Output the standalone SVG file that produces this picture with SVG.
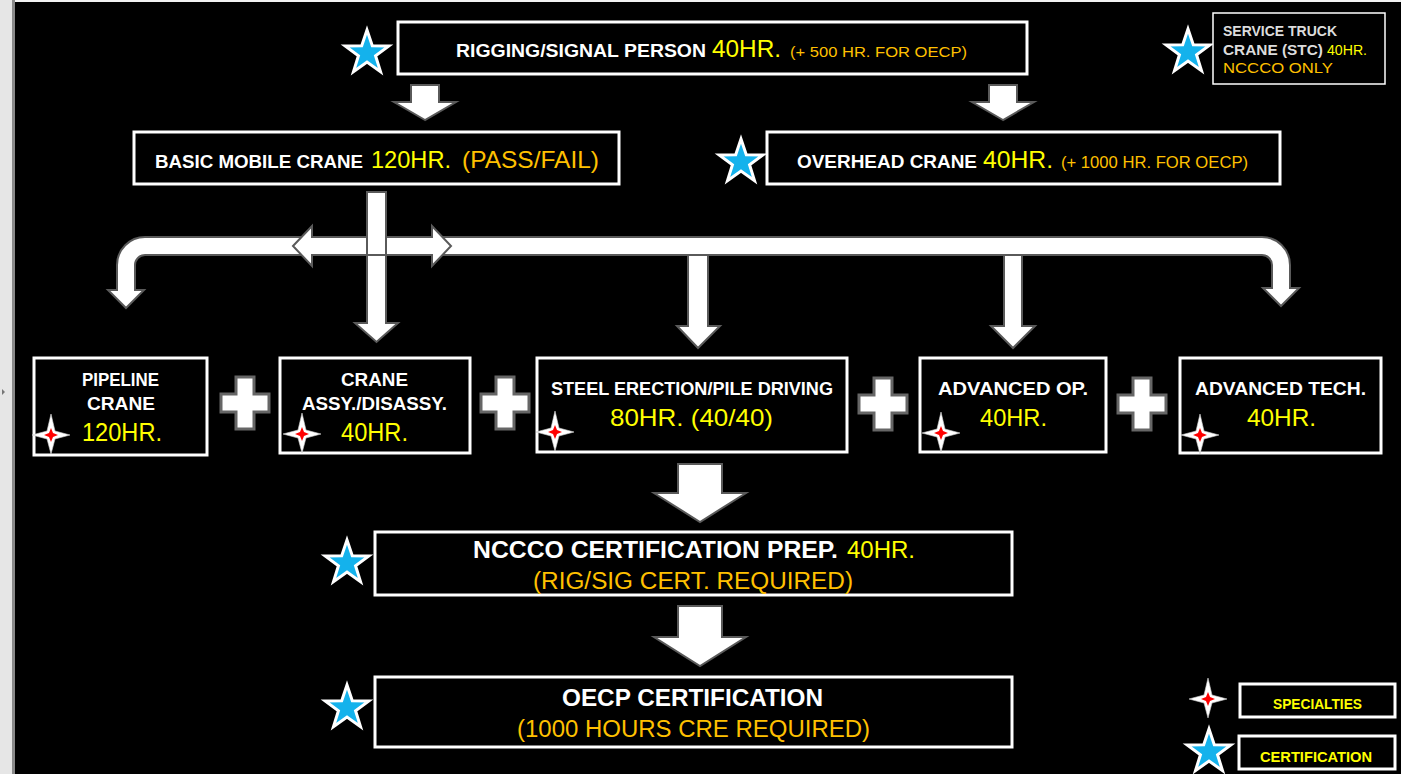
<svg xmlns="http://www.w3.org/2000/svg" xmlns:xlink="http://www.w3.org/1999/xlink" width="1401" height="774" viewBox="0 0 1401 774">
<defs>
<style>
.bx{fill:#000;stroke:#fff;stroke-width:3}
.w{fill:#fff;font-family:'Liberation Sans',Arial,sans-serif;font-weight:bold}
.g{fill:#dcdcdc;font-family:'Liberation Sans',Arial,sans-serif;font-weight:bold}
.y{fill:#ffff00;font-family:'Liberation Sans',Arial,sans-serif}
.yb{fill:#ffff00;font-family:'Liberation Sans',Arial,sans-serif;font-weight:bold}
.o{fill:#ffc000;font-family:'Liberation Sans',Arial,sans-serif}
.conn{fill:#fff;stroke:#5a5a5a;stroke-width:2;stroke-linejoin:miter}
.plus{fill:#fff;stroke:#666;stroke-width:3}
.star{fill:#14b2ec;stroke:#fff;stroke-width:3;stroke-linejoin:miter}
.spk{fill:#fff;stroke:#cfcfcf;stroke-width:0.6}
.spr{fill:#ff0000}
</style>
<path id="star" d="M0,-23 L5.29,-7.28 L21.87,-7.11 L8.56,2.78 L13.52,18.61 L0,9 L-13.52,18.61 L-8.56,2.78 L-21.87,-7.11 L-5.29,-7.28 Z"/>
<g id="sparkle">
<path class="spk" d="M0,-21 L4,-4 L19,0 L4,4 L0,19 L-4,4 L-19,0 L-4,-4 Z"/>
<path class="spr" d="M0,-7 L2,-2 L7,0 L2,2 L0,7 L-2,2 L-7,0 L-2,-2 Z"/>
</g>
<path id="plus" d="M-9,-26 H9 V-9 H24 V9 H9 V26 H-9 V9 H-24 V-9 H-9 Z"/>
</defs>

<rect x="0" y="0" width="1401" height="774" fill="#f2f2f2"/>
<rect x="0" y="0" width="12" height="774" fill="#e6e6e6"/>
<rect x="12" y="0" width="3" height="774" fill="#8a8a8a"/>
<rect x="15" y="2" width="1386" height="772" fill="#000"/>
<path d="M2,389 L5,392 L2,395 Z" fill="#777"/>

<g id="connectors">
<path class="conn" d="M425,120 L394,102 H411 V85 H439 V102 H456 Z"/>
<path class="conn" d="M1003,120 L972,102 H989 V85 H1017 V102 H1034 Z"/>
<path class="conn" d="M145,237 H1262 A28,28 0 0 1 1290,265 V288 H1299 L1281,306 L1263,288 H1272 V265 A10,10 0 0 0 1262,255 H145 A10,10 0 0 0 135,265 V290 H144 L126,308 L108,290 H117 V265 A28,28 0 0 1 145,237 Z"/>
<path class="conn" d="M293,246 L312,226 V237 H432 V226 L451,246 L432,266 V255 H312 V266 Z"/>
<rect class="conn" x="367" y="192" width="19" height="63"/>
<path class="conn" d="M367,255 H386 V323 H398 L376.5,342 L355,323 H367 Z"/>
<path class="conn" d="M688,255 H708 V326 H720 L698,348 L677,326 H688 Z"/>
<path class="conn" d="M1004,255 H1022 V326 H1035 L1013,348 L991,326 H1004 Z"/>
<path class="conn" d="M678,464 H722 V493 H746 L700,522 L654,493 H678 Z"/>
<path class="conn" d="M678,606 H722 V637 H746 L700,666 L654,637 H678 Z"/>
<use href="#plus" class="plus" x="245" y="403"/>
<use href="#plus" class="plus" x="505" y="403"/>
<use href="#plus" class="plus" x="883" y="404"/>
<use href="#plus" class="plus" x="1142" y="404"/>
</g>

<g id="rigging">
<use href="#star" class="star" x="367" y="53"/>
<rect class="bx" x="398" y="22" width="629" height="52"/>
<text class="w" x="456" y="57" font-size="18" textLength="250" lengthAdjust="spacingAndGlyphs">RIGGING/SIGNAL PERSON</text>
<text class="y" x="712" y="57" font-size="24" textLength="69" lengthAdjust="spacingAndGlyphs">40HR.</text>
<text class="o" x="790" y="57" font-size="15" textLength="177" lengthAdjust="spacingAndGlyphs">(+ 500 HR. FOR OECP)</text>
</g>

<g id="stc">
<use href="#star" class="star" x="1188" y="52"/>
<rect x="1213" y="13" width="172" height="71" fill="#000" stroke="#fff" stroke-width="1.5"/>
<text class="g" x="1223" y="36" font-size="15" textLength="114" lengthAdjust="spacingAndGlyphs">SERVICE TRUCK</text>
<text class="g" x="1223" y="55" font-size="15" textLength="100" lengthAdjust="spacingAndGlyphs">CRANE (STC)</text>
<text class="y" x="1327" y="55" font-size="15" textLength="40" lengthAdjust="spacingAndGlyphs">40HR.</text>
<text class="o" x="1223" y="73" font-size="15" textLength="110" lengthAdjust="spacingAndGlyphs">NCCCO ONLY</text>
</g>

<g id="basic">
<rect class="bx" x="134" y="132" width="485" height="52"/>
<text class="w" x="155" y="168" font-size="19" textLength="208" lengthAdjust="spacingAndGlyphs">BASIC MOBILE CRANE</text>
<text class="y" x="371" y="168" font-size="24" textLength="80" lengthAdjust="spacingAndGlyphs">120HR.</text>
<text class="o" x="462" y="168" font-size="24" textLength="137" lengthAdjust="spacingAndGlyphs">(PASS/FAIL)</text>
</g>

<g id="overhead">
<use href="#star" class="star" x="741" y="162"/>
<rect class="bx" x="767" y="132" width="513" height="52"/>
<text class="w" x="797" y="168" font-size="19" textLength="180" lengthAdjust="spacingAndGlyphs">OVERHEAD CRANE</text>
<text class="y" x="983" y="168" font-size="24" textLength="70" lengthAdjust="spacingAndGlyphs">40HR.</text>
<text class="o" x="1061" y="168" font-size="16" textLength="187" lengthAdjust="spacingAndGlyphs">(+ 1000 HR. FOR OECP)</text>
</g>

<g id="pipeline">
<rect class="bx" x="34" y="358" width="173" height="97"/>
<text class="w" x="82" y="386" font-size="19" textLength="77" lengthAdjust="spacingAndGlyphs">PIPELINE</text>
<text class="w" x="87" y="410" font-size="19" textLength="68" lengthAdjust="spacingAndGlyphs">CRANE</text>
<text class="y" x="82" y="441" font-size="25" textLength="80" lengthAdjust="spacingAndGlyphs">120HR.</text>
<use href="#sparkle" x="51" y="435"/>
</g>

<g id="assy">
<rect class="bx" x="280" y="358" width="190" height="95"/>
<text class="w" x="341" y="386" font-size="19" textLength="67" lengthAdjust="spacingAndGlyphs">CRANE</text>
<text class="w" x="302" y="410" font-size="19" textLength="145" lengthAdjust="spacingAndGlyphs">ASSY./DISASSY.</text>
<text class="y" x="341" y="441" font-size="25" textLength="67" lengthAdjust="spacingAndGlyphs">40HR.</text>
<use href="#sparkle" x="302" y="434"/>
</g>

<g id="steel">
<rect class="bx" x="537" y="358" width="310" height="94"/>
<text class="w" x="551" y="395" font-size="18" textLength="282" lengthAdjust="spacingAndGlyphs">STEEL ERECTION/PILE DRIVING</text>
<text class="y" x="610" y="426" font-size="24" textLength="163" lengthAdjust="spacingAndGlyphs">80HR. (40/40)</text>
<use href="#sparkle" x="555" y="432"/>
</g>

<g id="advop">
<rect class="bx" x="920" y="358" width="186" height="94"/>
<text class="w" x="938" y="395" font-size="18" textLength="150" lengthAdjust="spacingAndGlyphs">ADVANCED OP.</text>
<text class="y" x="980" y="426" font-size="24" textLength="67" lengthAdjust="spacingAndGlyphs">40HR.</text>
<use href="#sparkle" x="941" y="433"/>
</g>

<g id="advtech">
<rect class="bx" x="1180" y="358" width="201" height="95"/>
<text class="w" x="1195" y="395" font-size="18" textLength="171" lengthAdjust="spacingAndGlyphs">ADVANCED TECH.</text>
<text class="y" x="1247" y="426" font-size="24" textLength="69" lengthAdjust="spacingAndGlyphs">40HR.</text>
<use href="#sparkle" x="1200" y="435"/>
</g>

<g id="nccco">
<use href="#star" class="star" x="347" y="563"/>
<rect class="bx" x="375" y="532" width="637" height="63"/>
<text class="w" x="473" y="558" font-size="24" textLength="365" lengthAdjust="spacingAndGlyphs">NCCCO CERTIFICATION PREP.</text>
<text class="y" x="847" y="558" font-size="24" textLength="68" lengthAdjust="spacingAndGlyphs">40HR.</text>
<text class="o" x="533" y="589" font-size="23" textLength="320" lengthAdjust="spacingAndGlyphs">(RIG/SIG CERT. REQUIRED)</text>
</g>

<g id="oecp">
<use href="#star" class="star" x="347" y="708"/>
<rect class="bx" x="375" y="677" width="637" height="70"/>
<text class="w" x="562" y="706" font-size="24" textLength="261" lengthAdjust="spacingAndGlyphs">OECP CERTIFICATION</text>
<text class="o" x="517" y="737" font-size="23" textLength="353" lengthAdjust="spacingAndGlyphs">(1000 HOURS CRE REQUIRED)</text>
</g>

<g id="legend-specialties">
<use href="#sparkle" x="1208" y="699"/>
<rect class="bx" x="1240" y="684" width="155" height="33"/>
<text class="yb" x="1273" y="709" font-size="14" textLength="89" lengthAdjust="spacingAndGlyphs">SPECIALTIES</text>
</g>

<g id="legend-certification">
<use href="#star" class="star" x="1209" y="752"/>
<rect class="bx" x="1239" y="736" width="156" height="33"/>
<text class="yb" x="1260" y="762" font-size="14" textLength="112" lengthAdjust="spacingAndGlyphs">CERTIFICATION</text>
</g>
</svg>
